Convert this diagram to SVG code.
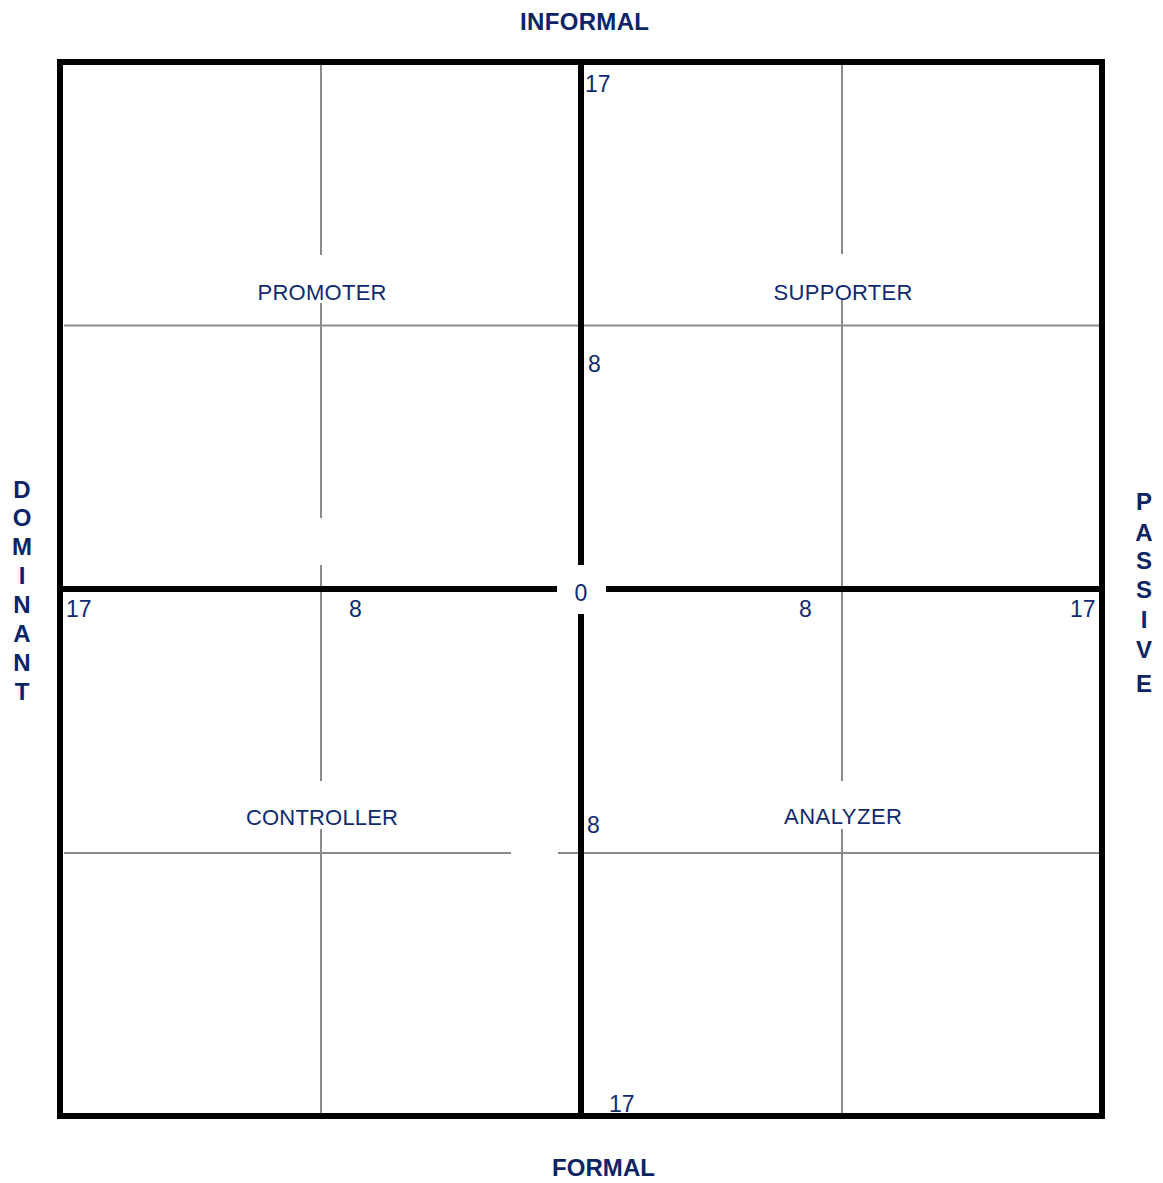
<svg xmlns="http://www.w3.org/2000/svg" width="1163" height="1183" viewBox="0 0 1163 1183">
<style>
.thick{stroke:#000;stroke-width:6;fill:none}
.thin{stroke:#8a8a8a;stroke-width:2;fill:none}
.lbl{font-family:"Liberation Sans",Arial,sans-serif;font-size:22px;fill:#0f2a6e;text-anchor:middle}
.num{font-family:"Liberation Sans",Arial,sans-serif;font-size:23px;fill:#0f2a6e}
.axis{font-family:"Liberation Sans",Arial,sans-serif;font-size:24px;font-weight:bold;fill:#0b2466;text-anchor:middle}
</style>
<rect width="1163" height="1183" fill="#fff"/>
<g id="grid">
<path class="thin" d="M321 65V255M321 303V518M321 565V781M321 829V1113M842 65V254M842 300V781M842 829V1113M64 325.5H1100M64 853H511M558 853H1100"/>
</g>
<g id="connectors">
<rect class="thick" x="60" y="62" width="1042" height="1054"/>
<path class="thick" d="M581 64V565M581 614V1114M62 589H557M606 589H1100"/>
</g>
<g id="promoter"><text class="lbl" x="322" y="300" textLength="129">PROMOTER</text></g>
<g id="supporter"><text class="lbl" x="843" y="300" textLength="139">SUPPORTER</text></g>
<g id="controller"><text class="lbl" x="322" y="825" textLength="152">CONTROLLER</text></g>
<g id="analyzer"><text class="lbl" x="843" y="824" textLength="118">ANALYZER</text></g>
<g id="numbers">
<text class="num" x="585" y="92">17</text>
<text class="num" x="588" y="372">8</text>
<text class="num" x="581" y="601" text-anchor="middle">0</text>
<text class="num" x="66" y="617">17</text>
<text class="num" x="349" y="617">8</text>
<text class="num" x="799" y="617">8</text>
<text class="num" x="1070" y="617">17</text>
<text class="num" x="587" y="833">8</text>
<text class="num" x="609" y="1112">17</text>
</g>
<g id="informal"><text class="axis" x="584.5" y="30" textLength="129">INFORMAL</text></g>
<g id="formal"><text class="axis" x="603.5" y="1176" textLength="103">FORMAL</text></g>
<g id="dominant">
<text class="axis" x="22" y="498">D</text>
<text class="axis" x="22" y="526">O</text>
<text class="axis" x="22" y="555">M</text>
<text class="axis" x="22" y="584">I</text>
<text class="axis" x="22" y="613">N</text>
<text class="axis" x="22" y="642">A</text>
<text class="axis" x="22" y="671">N</text>
<text class="axis" x="22" y="700">T</text>
</g>
<g id="passive">
<text class="axis" x="1144" y="510">P</text>
<text class="axis" x="1144" y="541">A</text>
<text class="axis" x="1144" y="569">S</text>
<text class="axis" x="1144" y="598">S</text>
<text class="axis" x="1144" y="628">I</text>
<text class="axis" x="1144" y="658">V</text>
<text class="axis" x="1144" y="692">E</text>
</g>
</svg>
